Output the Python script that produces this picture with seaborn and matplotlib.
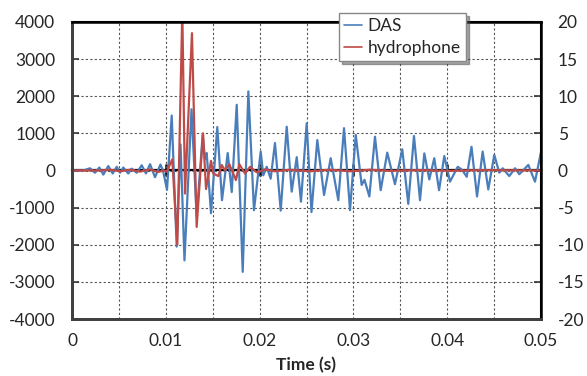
import numpy as np
import pandas as pd
import seaborn as sns
import matplotlib
matplotlib.use("Agg")
from matplotlib import pyplot as plt
from matplotlib.lines import Line2D

# time in ms
das_time_ms = [
    0, 1.20, 1.92, 2.45, 2.91, 3.34, 3.87, 4.34, 4.77, 5.12, 5.47, 6.00, 6.36,
    6.90, 7.43, 7.89, 8.32, 8.85, 9.43, 9.70, 10.13, 10.63, 11.16, 11.57,
    11.99, 12.74, 13.29, 13.93, 14.18, 14.36, 14.82, 15.49, 15.99, 16.60,
    17.03, 17.56, 18.20, 18.80, 19.40, 20.12, 20.39, 20.76, 21.18, 21.64,
    22.25, 22.89, 23.42, 23.96, 24.41, 25.02, 25.53, 26.15, 26.87, 27.58,
    28.39, 29.00, 29.64, 30.25, 30.88, 31.18, 31.70, 32.30, 32.91, 33.61,
    34.43, 35.21, 35.85, 36.46, 37.10, 37.56, 38.09, 38.62, 39.13, 39.69,
    40.30, 41.12, 41.58, 42.08, 42.59, 43.18, 43.78, 44.38, 45.02, 45.55,
    45.92, 46.62, 47.23, 47.69, 48.65, 49.36, 50.0,
]
das_values = [
    0, 0, 60, -60, 80, -110, 120, -80, 100, -60, 80, -80, 50,
    -60, 140, -80, 170, -180, 160, 0, -520, 1480, -2050, 700,
    -2420, 1650, -1240, 960, 300, 470, -1150, 1170, -800, 470,
    -580, 1770, -2730, 2130, -1070, 510, -130, 100, -220, 740,
    -1080, 1180, -570, 360, -840, 1270, -1120, 820, -660, 330,
    -800, 1140, -1070, 960, -390, -250, -700, 910, -530, 480,
    -370, 570, -900, 930, -800, 460, -240, 330, -530, 390,
    -300, 100, 20, -170, 640, -700, 510, -510, 420, -60,
    60, -150, 60, -100, 150, -300, 500,
]

hyd_time_ms = [
    0, 2.99, 4.05, 5.12, 6.18, 7.25, 8.32, 9.17, 9.81, 10.10, 10.69, 11.23,
    11.76, 12.05, 12.79, 13.29, 13.97, 14.29, 14.82, 15.06, 15.60, 15.96,
    16.31, 16.77, 17.48, 17.84, 18.44, 18.98, 19.69, 20.58, 21.64, 23.24,
    25.37, 27.51, 29.64, 31.77, 33.90, 37.10, 40.30, 43.50, 50.0,
]
hyd_values = [
    0, 0, 0.1, -0.1, 0.1, -0.15, 0.15, -0.2, 0, -0.15, 1.5, -10.0,
    21.5, -3.1, 18.5, -7.6, 5.0, -2.5, 1.3, -0.4, -0.75, 0.75,
    0, 0.85, -1.3, 0.85, -0.4, 0.5, -0.25, 0.15, -0.1, 0.1,
    -0.1, 0.1, -0.1, 0.1, -0.05, 0.05, -0.05, 0.05, 0,
]

x_ticks = [0, 0.01, 0.02, 0.03, 0.04, 0.05]
x_tick_labels = ["0", "0.01", "0.02", "0.03", "0.04", "0.05"]
das_ticks = list(range(-4000, 4001, 1000))
hyd_ticks = list(range(-20, 21, 5))

das_color = "#4A7EBB"
hyd_color = "#BE4B48"

sns.set_style("white")
plt.rcParams["font.family"] = ["Lato", "DejaVu Sans"]
plt.rcParams["axes.unicode_minus"] = False

das = pd.DataFrame({"t": np.array(das_time_ms) / 1000, "v": das_values})
hyd = pd.DataFrame({"t": np.array(hyd_time_ms) / 1000, "v": hyd_values})

fig = plt.figure(figsize=(5.87, 3.76), dpi=100)
ax = fig.add_axes([72 / 587, 1 - 319 / 376, 469 / 587, 297 / 376])
ax2 = ax.twinx()

grid_kw = dict(color="#555555", lw=0.8, ls=(0, (2, 2)))
ax.set_xticks(np.arange(0, 0.0501, 0.005), minor=True)
ax.grid(True, which="both", **grid_kw)
ax.set_axisbelow(True)

sns.lineplot(data=das, x="t", y="v", ax=ax, color=das_color, lw=1.6,
             legend=False, sort=False)
sns.lineplot(data=hyd, x="t", y="v", ax=ax2, color=hyd_color, lw=1.6,
             legend=False, sort=False)

ax.set_xlim(0, 0.05)
ax.set_ylim(-4000, 4000)
ax2.set_ylim(-20, 20)
ax.set_xticks(x_ticks)
ax.set_xticklabels(x_tick_labels)
ax.set_yticks(das_ticks)
ax.set_yticklabels([str(v) for v in das_ticks])
ax2.set_yticks(hyd_ticks)
ax2.set_yticklabels([str(v) for v in hyd_ticks])
ax.set_ylabel("")
ax2.set_ylabel("")
ax.set_xlabel("Time (s)", fontsize=12.5, fontweight="bold", labelpad=6)

ax.tick_params(axis="x", which="both", length=0, pad=10, labelsize=12.5)
ax.tick_params(axis="y", direction="in", length=5, width=1.2, color="#333333",
               pad=12, labelsize=12.5)
ax2.tick_params(axis="y", direction="in", length=5, width=1.2, color="#333333",
                pad=12, labelsize=12.5)

# horizontal axis crossing at zero, with its own tick marks
zero_axis = ax.secondary_xaxis(0.5)
zero_axis.set_xticks(x_ticks[1:-1])
zero_axis.tick_params(direction="inout", length=8, width=1.8, color="black",
                      labelbottom=False, labeltop=False)
for side in ["bottom", "top"]:
    zero_axis.spines[side].set_linewidth(1.6)
    zero_axis.spines[side].set_color("black")

for name in ["left", "bottom"]:
    ax.spines[name].set_color("#404040")
    ax.spines[name].set_linewidth(2)
    ax2.spines[name].set_color("#404040")
    ax2.spines[name].set_linewidth(2)
for name in ["top", "right"]:
    ax.spines[name].set_color("black")
    ax.spines[name].set_linewidth(1.5)
    ax2.spines[name].set_color("black")
    ax2.spines[name].set_linewidth(1.8)

handles = [
    Line2D([], [], color=das_color, lw=1.2),
    Line2D([], [], color=hyd_color, lw=1.2),
]
leg = ax2.legend(handles, ["DAS", "hydrophone"], loc="upper left",
                 bbox_to_anchor=(339 / 587, 1 - 13 / 376),
                 bbox_transform=fig.transFigure, fontsize=12.5,
                 frameon=True, fancybox=False, shadow=True, handlelength=1.0,
                 handletextpad=0.35, borderpad=0.3, labelspacing=0.35,
                 borderaxespad=0)
leg.get_frame().set_edgecolor("#888888")
leg.get_frame().set_linewidth(1.0)

fig.savefig("out.png", dpi=100)
